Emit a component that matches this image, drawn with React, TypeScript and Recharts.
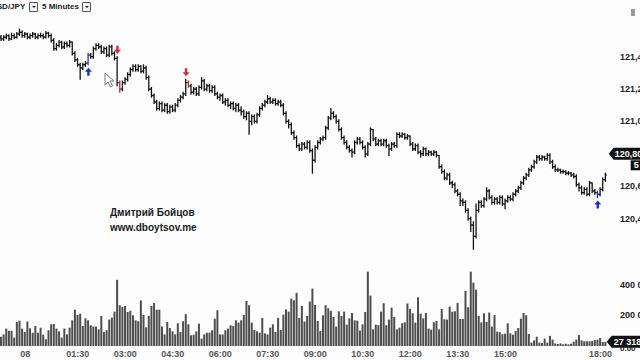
import React from "react";
import {
  ComposedChart,
  Bar,
  XAxis,
  YAxis,
  ReferenceDot,
} from "recharts";

// USD/JPY 5-minute bars, 23:05 -> 18:10
const firstOpen = 121.52;
const closes = [
  121.51, 121.52, 121.53, 121.51, 121.53, 121.52, 121.54, 121.55, 121.53, 121.54,
  121.52, 121.53, 121.54, 121.52, 121.53, 121.53, 121.52, 121.545, 121.53, 121.50,
  121.45, 121.47, 121.49, 121.46, 121.48, 121.47, 121.49, 121.42, 121.38, 121.35,
  121.33, 121.35, 121.36, 121.41, 121.40, 121.45, 121.47, 121.46, 121.43, 121.45,
  121.41, 121.46, 121.42, 121.39, 121.24, 121.20, 121.24, 121.26, 121.29, 121.32,
  121.34, 121.32, 121.34, 121.31, 121.33, 121.27, 121.20, 121.16, 121.12, 121.08,
  121.11, 121.07, 121.10, 121.06, 121.09, 121.07, 121.10, 121.13, 121.15, 121.17,
  121.24, 121.22, 121.18, 121.20, 121.17, 121.21, 121.25, 121.20, 121.22, 121.19,
  121.21, 121.17, 121.15, 121.16, 121.12, 121.13, 121.10, 121.11, 121.08, 121.10,
  121.07, 121.06, 121.03, 121.05, 121.00, 121.03, 121.00, 121.04, 121.08, 121.10,
  121.12, 121.14, 121.12, 121.13, 121.11, 121.12, 121.10, 121.05, 121.00, 120.98,
  120.93, 120.90, 120.85, 120.83, 120.86, 120.84, 120.87, 120.82, 120.76, 120.84,
  120.87, 120.89, 120.90, 120.96, 121.02, 121.05, 121.03, 121.00, 120.95, 120.90,
  120.87, 120.84, 120.82, 120.81, 120.87, 120.89, 120.87, 120.84, 120.80, 120.86,
  120.95, 120.89, 120.86, 120.88, 120.86, 120.88, 120.85, 120.83, 120.86, 120.85,
  120.92, 120.91, 120.92, 120.90, 120.91, 120.86, 120.83, 120.85, 120.81, 120.80,
  120.83, 120.80, 120.81, 120.80, 120.81, 120.79, 120.72, 120.69, 120.65, 120.67,
  120.62, 120.61, 120.57, 120.55, 120.51, 120.50, 120.45, 120.40, 120.36, 120.29,
  120.45, 120.50, 120.48, 120.52, 120.57, 120.53, 120.50, 120.52, 120.50, 120.53,
  120.49, 120.51, 120.53, 120.52, 120.55, 120.57, 120.59, 120.62, 120.65, 120.67,
  120.70, 120.72, 120.75, 120.78, 120.77, 120.78, 120.77, 120.79, 120.75, 120.72,
  120.70, 120.70, 120.69, 120.69, 120.68, 120.68, 120.67, 120.66, 120.61, 120.59,
  120.56, 120.58, 120.55, 120.62, 120.57, 120.56, 120.55, 120.58, 120.64, 120.67,
];
const highs = [
  121.53, 121.53, 121.54, 121.535, 121.545, 121.54, 121.55, 121.57, 121.56, 121.55,
  121.545, 121.54, 121.55, 121.545, 121.54, 121.545, 121.54, 121.555, 121.55, 121.54,
  121.51, 121.48, 121.50, 121.495, 121.49, 121.49, 121.50, 121.49, 121.43, 121.39,
  121.36, 121.36, 121.37, 121.42, 121.42, 121.46, 121.48, 121.48, 121.47, 121.46,
  121.46, 121.47, 121.47, 121.43, 121.40, 121.25, 121.25, 121.27, 121.30, 121.33,
  121.35, 121.35, 121.35, 121.345, 121.35, 121.34, 121.28, 121.21, 121.17, 121.13,
  121.12, 121.12, 121.11, 121.11, 121.10, 121.10, 121.11, 121.14, 121.16, 121.18,
  121.26, 121.25, 121.23, 121.21, 121.21, 121.22, 121.27, 121.26, 121.23, 121.23,
  121.22, 121.22, 121.18, 121.17, 121.17, 121.14, 121.14, 121.12, 121.12, 121.11,
  121.11, 121.09, 121.07, 121.06, 121.06, 121.04, 121.04, 121.05, 121.09, 121.11,
  121.13, 121.16, 121.15, 121.14, 121.14, 121.13, 121.13, 121.11, 121.06, 121.01,
  120.99, 120.94, 120.91, 120.86, 120.87, 120.87, 120.88, 120.88, 120.83, 120.85,
  120.88, 120.90, 120.91, 120.97, 121.03, 121.08, 121.06, 121.04, 121.01, 120.96,
  120.91, 120.88, 120.85, 120.83, 120.88, 120.90, 120.90, 120.88, 120.85, 120.87,
  120.96, 120.95, 120.90, 120.89, 120.89, 120.89, 120.89, 120.86, 120.87, 120.87,
  120.93, 120.93, 120.93, 120.925, 120.92, 120.91, 120.87, 120.86, 120.86, 120.82,
  120.84, 120.835, 120.82, 120.815, 120.82, 120.815, 120.79, 120.73, 120.70, 120.68,
  120.68, 120.63, 120.62, 120.58, 120.56, 120.52, 120.51, 120.46, 120.41, 120.38,
  120.49, 120.51, 120.51, 120.53, 120.59, 120.58, 120.54, 120.53, 120.53, 120.54,
  120.54, 120.52, 120.54, 120.54, 120.56, 120.58, 120.60, 120.63, 120.66, 120.68,
  120.71, 120.73, 120.76, 120.79, 120.79, 120.79, 120.785, 120.80, 120.80, 120.76,
  120.73, 120.71, 120.705, 120.70, 120.695, 120.69, 120.685, 120.68, 120.67, 120.62,
  120.60, 120.59, 120.59, 120.63, 120.62, 120.58, 120.57, 120.59, 120.65, 120.68,
];
const lows = [
  121.50, 121.50, 121.51, 121.50, 121.505, 121.51, 121.515, 121.53, 121.52, 121.52,
  121.51, 121.51, 121.52, 121.51, 121.51, 121.52, 121.51, 121.515, 121.52, 121.49,
  121.44, 121.44, 121.46, 121.45, 121.45, 121.46, 121.46, 121.41, 121.37, 121.34,
  121.26, 121.32, 121.34, 121.35, 121.39, 121.39, 121.44, 121.45, 121.42, 121.42,
  121.40, 121.40, 121.41, 121.38, 121.22, 121.18, 121.19, 121.23, 121.25, 121.28,
  121.31, 121.31, 121.31, 121.30, 121.30, 121.26, 121.19, 121.15, 121.11, 121.07,
  121.07, 121.06, 121.06, 121.05, 121.05, 121.06, 121.06, 121.09, 121.12, 121.14,
  121.16, 121.21, 121.17, 121.17, 121.16, 121.16, 121.20, 121.19, 121.19, 121.18,
  121.18, 121.16, 121.14, 121.13, 121.11, 121.10, 121.09, 121.08, 121.07, 121.06,
  121.06, 121.04, 121.02, 121.01, 120.92, 120.98, 120.99, 120.99, 121.03, 121.07,
  121.09, 121.11, 121.11, 121.11, 121.10, 121.10, 121.09, 121.04, 120.99, 120.96,
  120.92, 120.89, 120.84, 120.82, 120.82, 120.83, 120.83, 120.81, 120.68, 120.75,
  120.83, 120.86, 120.88, 120.89, 120.95, 121.01, 121.02, 120.99, 120.94, 120.89,
  120.86, 120.83, 120.81, 120.78, 120.80, 120.86, 120.86, 120.83, 120.78, 120.79,
  120.85, 120.88, 120.85, 120.85, 120.85, 120.85, 120.84, 120.79, 120.82, 120.84,
  120.84, 120.90, 120.90, 120.89, 120.89, 120.85, 120.82, 120.82, 120.80, 120.78,
  120.79, 120.79, 120.79, 120.79, 120.79, 120.78, 120.71, 120.68, 120.64, 120.64,
  120.61, 120.59, 120.56, 120.54, 120.48, 120.48, 120.44, 120.39, 120.32, 120.21,
  120.28, 120.44, 120.47, 120.47, 120.51, 120.52, 120.49, 120.49, 120.49, 120.49,
  120.48, 120.46, 120.50, 120.51, 120.51, 120.54, 120.56, 120.58, 120.61, 120.64,
  120.66, 120.69, 120.71, 120.74, 120.76, 120.76, 120.76, 120.76, 120.74, 120.71,
  120.69, 120.69, 120.68, 120.68, 120.67, 120.67, 120.66, 120.65, 120.60, 120.57,
  120.55, 120.55, 120.54, 120.54, 120.56, 120.55, 120.53, 120.54, 120.57, 120.63,
];
// volume in thousands
const volumesK = [
  61, 76, 114, 100, 100, 55, 157, 166, 114, 92,
  160, 116, 87, 131, 87, 120, 74, 44, 103, 142,
  144, 114, 96, 55, 114, 76, 120, 168, 238, 203,
  212, 131, 181, 168, 136, 127, 127, 109, 197, 92,
  103, 173, 186, 225, 433, 267, 256, 262, 223, 230,
  201, 168, 162, 299, 203, 122, 197, 262, 282, 238,
  238, 127, 76, 157, 118, 96, 76, 149, 92, 162,
  208, 142, 70, 74, 96, 146, 48, 76, 87, 87,
  103, 179, 234, 76, 76, 103, 114, 136, 131, 168,
  153, 168, 203, 295, 267, 153, 105, 96, 87, 184,
  83, 76, 120, 142, 92, 184, 105, 205, 240, 225,
  310, 299, 348, 184, 262, 160, 197, 291, 376, 269,
  164, 98, 201, 267, 247, 230, 190, 127, 227, 197,
  225, 140, 181, 216, 168, 166, 101, 142, 223, 487,
  330, 109, 140, 136, 225, 280, 136, 173, 251, 190,
  109, 120, 149, 155, 278, 243, 214, 153, 319, 212,
  181, 216, 114, 107, 155, 164, 109, 243, 175, 173,
  258, 225, 227, 282, 177, 177, 361, 254, 487, 415,
  369, 197, 155, 214, 157, 219, 127, 203, 94, 90,
  77, 81, 149, 83, 74, 98, 118, 179, 216, 201,
  79, 22, 37, 61, 22, 20, 48, 22, 66, 42,
  17, 13, 17, 11, 15, 11, 15, 28, 42, 72,
  37, 31, 31, 31, 33, 39, 42, 52, 26, 27,
];

const priceTicks = [120.2, 120.4, 120.6, 120.8, 121.0, 121.2, 121.4];
const volumeTicks = [0, 200000, 400000];
const timeTicks = ["00:00", "01:30", "03:00", "04:30", "06:00", "07:30", "09:00", "10:30", "12:00", "13:30", "15:00", "18:00"];
const tickNames: Record<string, string> = { "00:00": "08" };

// trade signals: bar index, direction
const signals = [
  { i: 33, dir: "up" },
  { i: 44, dir: "down" },
  { i: 70, dir: "down" },
  { i: 226, dir: "up" },
];
const signalBars: Record<number, string> = { 33: "#1f2bd6", 45: "#c0283a", 71: "#c0283a", 226: "#1f2bd6" };

const lastPrice = 120.8;
const lastVolume = 27318;

const pad = (n: number) => (n < 10 ? "0" + n : "" + n);
const times = closes.map((_, i) => {
  const m = (23 * 60 + 5 + i * 5) % 1440;
  return pad(Math.floor(m / 60)) + ":" + pad(m % 60);
});

const data = closes.map((c, i) => ({
  t: times[i],
  open: i === 0 ? firstOpen : closes[i - 1],
  high: highs[i],
  low: lows[i],
  close: c,
  range: [lows[i], highs[i]],
  vol: volumesK[i] * 1000,
  color: signalBars[i] || "#111",
}));

const FONT = "Liberation Sans, Arial, sans-serif";

const OhlcBar = (props: any) => {
  const { x, y, width, height, payload } = props;
  if (payload == null || isNaN(y)) return null;
  const cx = x + width / 2;
  const h = Math.abs(height);
  const top = Math.min(y, y + height);
  const span = payload.high - payload.low;
  const yOf = (v: number) => (span === 0 ? top : top + ((payload.high - v) / span) * h);
  const yo = yOf(payload.open);
  const yc = yOf(payload.close);
  return (
    <g stroke={payload.color} strokeWidth={1.3}>
      <line x1={cx} x2={cx} y1={top - 0.5} y2={top + h + 0.5} />
      <line x1={cx - 1.4} x2={cx} y1={yo} y2={yo} />
      <line x1={cx} x2={cx + 1.4} y1={yc} y2={yc} />
    </g>
  );
};

const PriceTick = (props: any) => {
  const { x, y, payload } = props;
  // the last-price tag covers this level
  if (payload.value === lastPrice) return null;
  return (
    <text x={x + 5} y={y + 3} fontSize={9} fontWeight="bold" fill="#222" fontFamily={FONT}>
      {payload.value.toFixed(2).replace(".", ",")}
    </text>
  );
};

const VolTick = (props: any) => {
  const { x, y, payload } = props;
  if (payload.value === 0) {
    return (
      <text x={x + 5} y={y + 5} fontSize={8} fontWeight="bold" fill="#222" fontFamily={FONT}>0.00</text>
    );
  }
  return (
    <text x={x + 5} y={y + 3} fontSize={9} fontWeight="bold" fill="#222" fontFamily={FONT}>
      {(payload.value / 1000).toFixed(0) + " 000"}
    </text>
  );
};

const TimeTick = (props: any) => {
  const { x, y, payload } = props;
  const name = tickNames[payload.value] || payload.value;
  return (
    <text x={name === "08" ? x - 5 : x} y={y + 11} textAnchor="middle" fontSize={9} fontWeight="bold" fill="#555" fontFamily={FONT}>
      {name}
    </text>
  );
};

const Arrow = (dir: string, color: string) => (props: any) => {
  const { cx, cy } = props;
  if (cx == null || cy == null) return null;
  if (dir === "up") {
    const t = cy + 3;
    return (
      <path d={`M${cx} ${t} L${cx + 3.5} ${t + 4} L${cx + 1.2} ${t + 4} L${cx + 1.2} ${t + 8} L${cx - 1.2} ${t + 8} L${cx - 1.2} ${t + 4} L${cx - 3.5} ${t + 4} Z`} fill={color} />
    );
  }
  const b = cy - 3;
  return (
    <path d={`M${cx} ${b} L${cx + 3.5} ${b - 4} L${cx + 1.2} ${b - 4} L${cx + 1.2} ${b - 8} L${cx - 1.2} ${b - 8} L${cx - 1.2} ${b - 4} L${cx - 3.5} ${b - 4} Z`} fill={color} />
  );
};

const PriceTag = (props: any) => {
  const { cx, cy } = props;
  if (cx == null) return null;
  const x0 = cx + 3;
  return (
    <g>
      <path d={`M${x0} ${cy} L${x0 + 5} ${cy - 6} L${x0 + 40} ${cy - 6} L${x0 + 40} ${cy + 6} L${x0 + 5} ${cy + 6} Z`} fill="#111" />
      <text x={x0 + 6} y={cy + 3.3} fontSize={9} fontWeight="bold" fill="#fff" fontFamily={FONT}>
        {lastPrice.toFixed(2).replace(".", ",")}
      </text>
      <rect x={x0 + 22} y={cy + 6.5} width={14} height={10} fill="#111" />
      <text x={x0 + 25} y={cy + 14.5} fontSize={9} fontWeight="bold" fill="#fff" fontFamily={FONT}>5</text>
    </g>
  );
};

const VolTag = (props: any) => {
  const { cx, cy } = props;
  if (cx == null) return null;
  const x0 = cx + 1;
  return (
    <g>
      <path d={`M${x0} ${cy} L${x0 + 5} ${cy - 6} L${x0 + 40} ${cy - 6} L${x0 + 40} ${cy + 6} L${x0 + 5} ${cy + 6} Z`} fill="#111" />
      <text x={x0 + 7} y={cy + 3.3} fontSize={9} fontWeight="bold" fill="#fff" fontFamily={FONT}>
        {"27 318"}
      </text>
    </g>
  );
};

const Dropdown = ({ left }: { left: number }) => (
  <div style={{ position: "absolute", left, top: 2, width: 7, height: 8, border: "1px solid #555", borderRadius: 1, background: "#f4f4f4" }}>
    <div style={{ position: "absolute", left: 1.5, top: 3, width: 0, height: 0, borderLeft: "2px solid transparent", borderRight: "2px solid transparent", borderTop: "2.5px solid #222" }} />
  </div>
);

export default function App() {
  return (
    <div style={{ position: "absolute", left: 0, top: 0, width: 640, height: 360, background: "#fdfdfd", overflow: "hidden", fontFamily: FONT }}>
      <div style={{ position: "absolute", left: -9, top: 2, fontSize: 8, fontWeight: "bold", color: "#222", lineHeight: "10px" }}>USD/JPY</div>
      <Dropdown left={29} />
      <div style={{ position: "absolute", left: 42, top: 2, fontSize: 8, fontWeight: "bold", color: "#222", lineHeight: "10px" }}>5 Minutes</div>
      <Dropdown left={82} />
      <div style={{ position: "absolute", left: 631, top: 9, width: 4, height: 7, background: "#999" }} />

      <div style={{ position: "absolute", left: 0, top: 0 }}>
        <ComposedChart width={640} height={259} data={data} margin={{ top: 0, right: 0, bottom: 0, left: 0 }}>
          <XAxis dataKey="t" hide />
          <YAxis
            yAxisId="p"
            orientation="right"
            width={33}
            domain={[120.15, 121.75]}
            ticks={priceTicks}
            allowDataOverflow
            axisLine={false}
            tickLine={false}
            tick={<PriceTick />}
          />
          <Bar yAxisId="p" dataKey="range" shape={<OhlcBar />} isAnimationActive={false} barSize={2} />
          {signals.map((s) => (
            <ReferenceDot
              key={s.i}
              yAxisId="p"
              x={times[s.i]}
              y={s.dir === "up" ? lows[s.i] : highs[s.i]}
              ifOverflow="visible"
              shape={Arrow(s.dir, s.dir === "up" ? "#1f2bd6" : "#d8283a")}
            />
          ))}
          <ReferenceDot yAxisId="p" x={times[times.length - 1]} y={lastPrice} ifOverflow="visible" shape={<PriceTag />} />
        </ComposedChart>
      </div>

      <div style={{ position: "absolute", left: 0, top: 262 }}>
        <ComposedChart width={640} height={98} data={data} margin={{ top: 0, right: 0, bottom: 0, left: 0 }}>
          <XAxis
            dataKey="t"
            height={14}
            ticks={timeTicks}
            interval={0}
            axisLine={false}
            tickLine={false}
            tickSize={0}
            tickMargin={0}
            tick={<TimeTick />}
          />
          <YAxis
            yAxisId="v"
            orientation="right"
            width={33}
            domain={[0, 550000]}
            ticks={volumeTicks}
            allowDataOverflow
            axisLine={false}
            tickLine={false}
            tick={<VolTick />}
          />
          <Bar yAxisId="v" dataKey="vol" fill="#4d4d4d" barSize={2} isAnimationActive={false} />
          <ReferenceDot yAxisId="v" x={times[times.length - 1]} y={lastVolume} ifOverflow="visible" shape={<VolTag />} />
        </ComposedChart>
      </div>

      <div style={{ position: "absolute", left: 110, top: 205, fontSize: 10, fontWeight: "bold", color: "#1a1a1a", lineHeight: "15px" }}>
        <div>Дмитрий Бойцов</div>
        <div>www.dboytsov.me</div>
      </div>

      <svg style={{ position: "absolute", left: 104, top: 72 }} width={12} height={18}>
        <path d="M1 1 L1 13 L4 10 L6.5 15 L8.5 14 L6 9 L10 9 Z" fill="#fff" stroke="#777" strokeWidth={1} />
      </svg>
    </div>
  );
}
